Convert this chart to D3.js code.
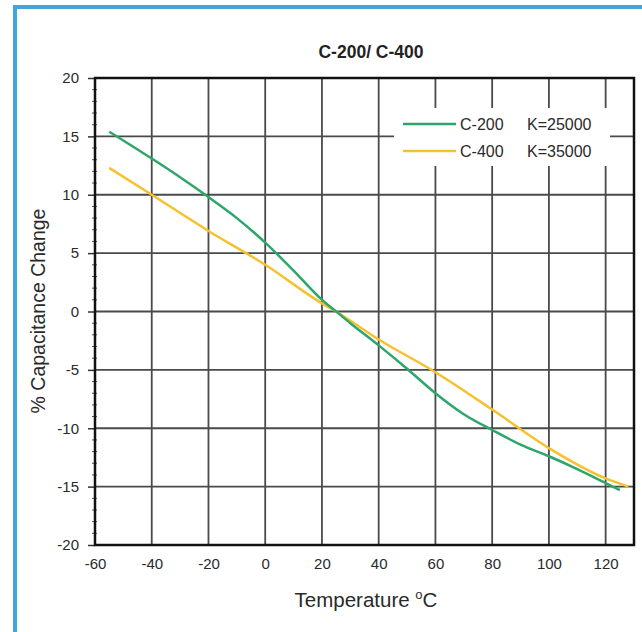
<!DOCTYPE html>
<html><head><meta charset="utf-8">
<script src="https://cdn.jsdelivr.net/npm/d3@7"></script>
<style>body{margin:0;background:#fff}svg{display:block}text{font-family:"Liberation Sans",Arial,sans-serif}</style>
</head><body><svg id="c" width="642" height="632"></svg>
<script>
const xTicks = [-60,-40,-20,0,20,40,60,80,100,120];
const yTicks = [-20,-15,-10,-5,0,5,10,15,20];
const c200Temp = [-55,-40,-30,-20,-10,0,10,20,25,30,40,50,60,70,80,90,100,110,120,125];
const c200Vals = [15.4,13.1,11.5,9.8,8.0,5.9,3.5,1.0,0.0,-1.0,-2.9,-4.9,-7.0,-8.8,-10.15,-11.4,-12.4,-13.5,-14.7,-15.3];
const c400Temp = [-55,-40,-20,0,20,25,40,60,80,100,120,128];
const c400Vals = [12.3,10.0,6.9,4.0,0.7,0.0,-2.4,-5.2,-8.4,-11.7,-14.3,-15.0];
const legendItems = [{name:"C-200",k:"K=25000",color:"#2ca66b"},{name:"C-400",k:"K=35000",color:"#f6c12e"}];

const svg = d3.select("#c");
// blue frame
svg.append("rect").attr("x",13).attr("y",5).attr("width",640).attr("height",4).attr("fill","#3fa7da");
svg.append("rect").attr("x",13).attr("y",5).attr("width",4).attr("height",640).attr("fill","#3fa7da");

const L=95,R=634,T=78,B=545;
const x = d3.scaleLinear().domain([-60,130]).range([L,R]);
const y = d3.scaleLinear().domain([-20,20]).range([B,T]);
const fmt = d => String(d);

const g = svg.append("g");
// grid
g.selectAll(".vg").data(xTicks.filter(d=>d>-60)).enter().append("line")
 .attr("x1",d=>x(d)).attr("x2",d=>x(d)).attr("y1",T).attr("y2",B)
 .attr("stroke","#4a4a4a").attr("stroke-width",1.8);
g.selectAll(".hg").data(yTicks.filter(d=>d>-20&&d<20)).enter().append("line")
 .attr("x1",L).attr("x2",R).attr("y1",d=>y(d)).attr("y2",d=>y(d))
 .attr("stroke","#4a4a4a").attr("stroke-width",1.8);

// minor y ticks
const minor = d3.range(-19,20).filter(v=>v%5!==0);
g.selectAll(".mt").data(minor).enter().append("line")
 .attr("x1",L-3).attr("x2",L+2).attr("y1",d=>y(d)).attr("y2",d=>y(d))
 .attr("stroke","#555").attr("stroke-width",1);

// y axis
const ya = svg.append("g").attr("transform",`translate(${L},0)`)
 .call(d3.axisLeft(y).tickValues(yTicks).tickFormat(fmt).tickSize(7).tickPadding(9));
ya.select(".domain").remove();
ya.selectAll("line").attr("stroke","#333").attr("stroke-width",1.5);
ya.selectAll("text").attr("font-size",15).attr("fill","#2a2a2a").attr("font-family","Liberation Sans, Arial, sans-serif");

// x axis
const xa = svg.append("g").attr("transform",`translate(0,${B})`)
 .call(d3.axisBottom(x).tickValues(xTicks).tickFormat(fmt).tickSize(0).tickPadding(13));
xa.select(".domain").remove();
xa.selectAll("text").attr("font-size",15).attr("fill","#2a2a2a").attr("font-family","Liberation Sans, Arial, sans-serif");

// legend box
svg.append("rect").attr("x",394).attr("y",108).attr("width",216).attr("height",58).attr("fill","#fff");
const lg = svg.append("g");
legendItems.forEach((it,i)=>{
  const yy = 124 + i*27;
  lg.append("line").attr("x1",403).attr("x2",456).attr("y1",yy).attr("y2",yy).attr("stroke",it.color).attr("stroke-width",2.5);
  lg.append("text").attr("x",460).attr("y",yy+6).attr("font-size",16).attr("fill","#2a2a2a").text(it.name);
  lg.append("text").attr("x",527).attr("y",yy+6).attr("font-size",16).attr("fill","#2a2a2a").text(it.k);
});

// lines
const line = d3.line().x(d=>x(d[0])).y(d=>y(d[1])).curve(d3.curveMonotoneX);
svg.append("path").datum(c400Temp.map((t,i)=>[t,c400Vals[i]])).attr("d",line)
 .attr("fill","none").attr("stroke","#f6c12e").attr("stroke-width",2.5);
svg.append("path").datum(c200Temp.map((t,i)=>[t,c200Vals[i]])).attr("d",line)
 .attr("fill","none").attr("stroke","#2ca66b").attr("stroke-width",2.5);

// frame
svg.append("rect").attr("x",L).attr("y",T).attr("width",R-L).attr("height",B-T)
 .attr("fill","none").attr("stroke","#111").attr("stroke-width",2.5);

// title & labels
svg.append("text").attr("x",371).attr("y",58).attr("text-anchor","middle").attr("font-size",17.5).attr("font-weight","bold").attr("fill","#222").text("C-200/ C-400");
svg.append("text").attr("transform","translate(45,311) rotate(-90)").attr("text-anchor","middle").attr("font-size",19.5).attr("fill","#2a2a2a").text("% Capacitance Change");
const xl = svg.append("text").attr("x",366).attr("y",607).attr("text-anchor","middle").attr("font-size",20.5).attr("fill","#2a2a2a");
xl.append("tspan").text("Temperature ");
xl.append("tspan").attr("font-size",13).attr("dy",-8).text("o");
xl.append("tspan").attr("dy",8).text("C");
</script></body></html>
